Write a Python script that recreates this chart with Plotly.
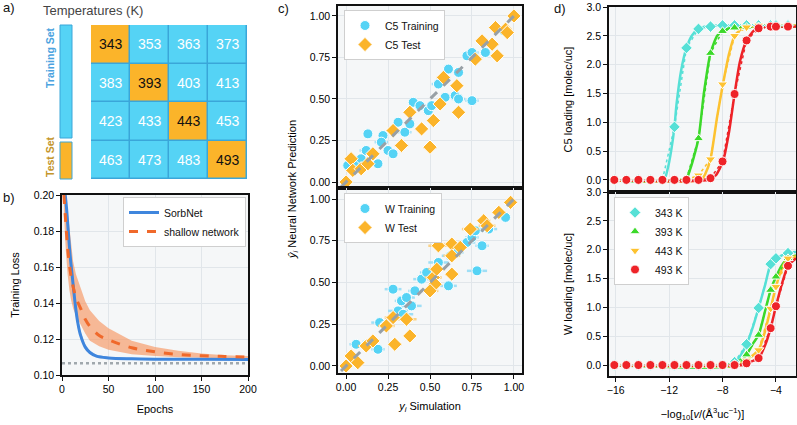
import plotly.graph_objects as go

# ---------------- DATA ----------------
# panel a
temps = [[343, 353, 363, 373],
         [383, 393, 403, 413],
         [423, 433, 443, 453],
         [463, 473, 483, 493]]
test_temps = [343, 393, 443, 493]

# panel b
epochs_sorb = [3.5, 5, 7, 9, 11, 13, 15, 17, 20, 25, 30, 37, 50, 75, 100, 150, 200]
sorb_mean = [0.200, 0.192, 0.178, 0.165, 0.155, 0.145, 0.136, 0.129, 0.122, 0.1155, 0.1125, 0.1105, 0.1095, 0.1090, 0.1088, 0.1087, 0.1086]
sorb_hi = [0.203, 0.196, 0.183, 0.170, 0.160, 0.149, 0.140, 0.132, 0.124, 0.1170, 0.1135, 0.1112, 0.1100, 0.1094, 0.1092, 0.1090, 0.1089]
sorb_lo = [0.197, 0.188, 0.173, 0.160, 0.150, 0.141, 0.132, 0.126, 0.120, 0.1140, 0.1115, 0.1098, 0.1090, 0.1086, 0.1084, 0.1084, 0.1083]
epochs_sh = [2, 4, 6, 8, 10, 12, 15, 20, 25, 30, 40, 50, 75, 100, 125, 150, 175, 200]
sh_mean = [0.200, 0.185, 0.171, 0.161, 0.154, 0.149, 0.143, 0.137, 0.131, 0.127, 0.122, 0.1196, 0.1151, 0.1129, 0.1114, 0.1107, 0.1103, 0.1100]
sh_hi = [0.210, 0.200, 0.190, 0.180, 0.170, 0.163, 0.156, 0.148, 0.141, 0.136, 0.130, 0.126, 0.119, 0.1155, 0.1135, 0.1120, 0.1110, 0.1105]
sh_lo = [0.190, 0.170, 0.156, 0.147, 0.141, 0.137, 0.133, 0.128, 0.123, 0.119, 0.116, 0.114, 0.1115, 0.1105, 0.1098, 0.1095, 0.1093, 0.1090]
loss_floor = 0.1065
epoch_span = [0, 200]

# panel c (C5)
c5_tr_x = [0.01, 0.06, 0.09, 0.13, 0.12, 0.19, 0.22, 0.21, 0.25, 0.28, 0.31, 0.35, 0.38, 0.40, 0.44, 0.49, 0.51, 0.55, 0.59, 0.61, 0.65, 0.67, 0.67, 0.75, 0.72, 0.75, 0.83, 0.94]
c5_tr_y = [0.10, 0.10, 0.14, 0.29, 0.19, 0.11, 0.28, 0.24, 0.19, 0.17, 0.36, 0.30, 0.35, 0.48, 0.46, 0.43, 0.46, 0.59, 0.51, 0.68, 0.52, 0.66, 0.50, 0.49, 0.76, 0.78, 0.78, 0.91]
c5_tr_err = [0.03, 0.02, 0.03, 0.02, 0.04, 0.02, 0.03, 0.04, 0.03, 0.02, 0.03, 0.04, 0.03, 0.02, 0.04, 0.03, 0.02, 0.04, 0.03, 0.02, 0.04, 0.03, 0.04, 0.04, 0.03, 0.04, 0.03, 0.02]
c5_te_x = [0.00, 0.03, 0.04, 0.09, 0.13, 0.16, 0.28, 0.33, 0.38, 0.45, 0.50, 0.52, 0.56, 0.58, 0.66, 0.67, 0.77, 0.81, 0.87, 0.90, 0.89, 0.95, 0.96, 1.00]
c5_te_y = [0.00, 0.14, 0.07, 0.08, 0.11, 0.17, 0.31, 0.22, 0.42, 0.32, 0.21, 0.37, 0.47, 0.63, 0.58, 0.42, 0.74, 0.85, 0.83, 0.76, 0.93, 0.92, 0.90, 1.00]
c5_te_err = [0.02, 0.03, 0.03, 0.02, 0.03, 0.02, 0.03, 0.04, 0.03, 0.02, 0.04, 0.03, 0.02, 0.04, 0.03, 0.03, 0.02, 0.03, 0.04, 0.02, 0.03, 0.02, 0.03, 0.02]

# panel c (W)
w_tr_x = [0.01, 0.06, 0.12, 0.19, 0.20, 0.23, 0.28, 0.31, 0.33, 0.36, 0.39, 0.41, 0.45, 0.48, 0.55, 0.61, 0.66, 0.72, 0.75, 0.77, 0.78, 0.81, 0.85, 0.95, 0.62, 0.34]
w_tr_y = [0.01, 0.13, 0.13, 0.10, 0.26, 0.24, 0.46, 0.33, 0.39, 0.41, 0.36, 0.45, 0.52, 0.56, 0.62, 0.48, 0.68, 0.74, 0.77, 0.81, 0.57, 0.72, 0.82, 0.89, 0.66, 0.31]
w_tr_err = [0.03, 0.04, 0.03, 0.04, 0.05, 0.04, 0.05, 0.06, 0.04, 0.05, 0.06, 0.04, 0.05, 0.04, 0.06, 0.05, 0.04, 0.05, 0.04, 0.05, 0.06, 0.04, 0.05, 0.03, 0.05, 0.06]
w_te_x = [0.00, 0.03, 0.07, 0.12, 0.16, 0.24, 0.29, 0.28, 0.36, 0.38, 0.52, 0.53, 0.50, 0.55, 0.63, 0.63, 0.63, 0.68, 0.74, 0.82, 0.84, 0.91, 0.98, 0.54]
w_te_y = [0.00, 0.06, 0.02, 0.12, 0.15, 0.24, 0.13, 0.29, 0.28, 0.18, 0.53, 0.49, 0.45, 0.72, 0.73, 0.55, 0.66, 0.71, 0.82, 0.87, 0.84, 0.92, 0.98, 0.58]
w_te_err = [0.03, 0.04, 0.03, 0.05, 0.04, 0.05, 0.04, 0.05, 0.06, 0.03, 0.05, 0.04, 0.05, 0.06, 0.05, 0.04, 0.05, 0.04, 0.05, 0.04, 0.05, 0.04, 0.03, 0.05]
parity_line = [-0.03, 1.03]

# panel d
logp = [-16.1, -15.2, -14.3, -13.4, -12.5, -11.6, -10.7, -9.8, -8.9, -8.0, -7.1, -6.2, -5.3, -4.4, -4.0, -3.1]
temps_d = ["343 K", "393 K", "443 K", "493 K"]
c5_load = {
    "343 K": [0, 0, 0, 0, 0, 0.92, 2.29, 2.62, 2.66, 2.68, 2.68, 2.68, 2.68, 2.68, 2.68, 2.68],
    "393 K": [0, 0, 0, 0, 0, 0, 0.02, 0.72, 2.20, 2.58, 2.64, 2.65, 2.66, 2.66, 2.66, 2.66],
    "443 K": [0, 0, 0, 0, 0, 0, 0, 0.08, 0.36, 1.66, 2.50, 2.65, 2.68, 2.68, 2.68, 2.68],
    "493 K": [0, 0, 0, 0, 0, 0, 0, 0, 0.03, 0.32, 1.49, 2.42, 2.63, 2.66, 2.66, 2.66],
}
w_load = {
    "343 K": [0, 0, 0, 0, 0, 0, 0, 0, 0, 0, 0.05, 0.36, 0.99, 1.75, 1.85, 1.94],
    "393 K": [0, 0, 0, 0, 0, 0, 0, 0, 0, 0, 0.02, 0.18, 0.52, 1.30, 1.53, 1.85],
    "443 K": [0, 0, 0, 0, 0, 0, 0, 0, 0, 0, 0.01, 0.08, 0.26, 0.98, 1.36, 1.85],
    "493 K": [0, 0, 0, 0, 0, 0, 0, 0, 0, 0, 0, 0.03, 0.12, 0.64, 1.02, 1.72],
}
c5_fit_x = {
    "343 K": [-16.5, -12.4, -12.1, -11.85, -11.6, -11.45, -11.1, -10.7, -10.3, -9.8, -9.0, -2.5],
    "393 K": [-16.5, -10.8, -10.4, -9.8, -9.4, -8.9, -8.4, -7.9, -7.0, -2.5],
    "443 K": [-16.5, -9.6, -9.3, -8.9, -8.4, -7.97, -7.5, -7.1, -6.5, -5.5, -2.5],
    "493 K": [-16.5, -9.0, -8.5, -7.97, -7.5, -7.1, -6.7, -6.2, -5.6, -4.8, -2.5],
}
c5_fit_y = {
    "343 K": [0, 0, 0.2, 0.5, 0.92, 1.3, 1.9, 2.29, 2.5, 2.62, 2.67, 2.68],
    "393 K": [0, 0, 0.2, 0.72, 1.5, 2.2, 2.5, 2.6, 2.65, 2.66],
    "443 K": [0, 0, 0.1, 0.36, 1.1, 1.66, 2.2, 2.5, 2.63, 2.67, 2.68],
    "493 K": [0, 0, 0.08, 0.32, 0.85, 1.49, 2.05, 2.42, 2.6, 2.65, 2.66],
}
w_fit_x = {
    "343 K": [-16.5, -7.3, -6.7, -6.2, -5.7, -5.3, -4.8, -4.4, -4.0, -3.1, -2.5],
    "393 K": [-16.5, -6.9, -6.2, -5.7, -5.3, -4.8, -4.4, -4.0, -3.5, -3.1, -2.5],
    "443 K": [-16.5, -6.7, -6.2, -5.3, -4.8, -4.4, -4.0, -3.5, -3.1, -2.5],
    "493 K": [-16.5, -6.5, -6.2, -5.3, -4.8, -4.4, -4.0, -3.5, -3.1, -2.5],
}
w_fit_y = {
    "343 K": [0, 0, 0.15, 0.36, 0.68, 0.99, 1.4, 1.75, 1.85, 1.94, 1.96],
    "393 K": [0, 0, 0.18, 0.38, 0.52, 0.95, 1.3, 1.53, 1.75, 1.85, 1.9],
    "443 K": [0, 0, 0.08, 0.26, 0.6, 0.98, 1.36, 1.7, 1.85, 1.88],
    "493 K": [0, 0, 0.03, 0.12, 0.35, 0.64, 1.02, 1.45, 1.72, 1.85],
}

# ---------------- STYLE ----------------
W, H = 797, 425
FONT = "Liberation Sans, Arial, sans-serif"
CYAN = "#55d3f5"
ORANGE = "#fbb42a"
BLUE = "#3f86dd"
DORANGE = "#f0692b"
d_colors = {"343 K": "#56e0d6", "393 K": "#3cd92a", "443 K": "#fdc230", "493 K": "#ee2328"}
d_symbols = {"343 K": "diamond", "393 K": "triangle-up", "443 K": "triangle-down", "493 K": "circle"}


def px(x):
    return x / W


def py(y):
    return 1 - y / H


fig = go.Figure()

# ---- panel a heatmap ----
zvals = [[1 if t in test_temps else 0 for t in row] for row in temps]
fig.add_trace(go.Heatmap(z=zvals, x=[0, 1, 2, 3], y=[0, 1, 2, 3],
                         colorscale=[[0, CYAN], [1, ORANGE]], zmin=0, zmax=1,
                         showscale=False, xgap=1.5, ygap=1.5, hoverinfo="skip",
                         xaxis="x", yaxis="y"))
annotations = []
for i, row in enumerate(temps):
    for j, t in enumerate(row):
        is_test = t in test_temps
        annotations.append(dict(x=j, y=i, xref="x", yref="y", text=str(t), showarrow=False,
                                xanchor="center", yanchor="middle",
                                font=dict(size=14, color="#111" if is_test else "white", family=FONT)))

shapes = [
    dict(type="rect", xref="x", yref="y", x0=-0.5, x1=3.5, y0=-0.5, y1=3.5,
         fillcolor="#3aa6d9", line=dict(color="#3aa6d9", width=1), layer="below"),
    dict(type="rect", xref="paper", yref="paper", x0=px(60), x1=px(72), y0=py(138), y1=py(25),
         fillcolor=CYAN, line=dict(color="#3aa6d9", width=1)),
    dict(type="rect", xref="paper", yref="paper", x0=px(60), x1=px(72), y0=py(179), y1=py(142),
         fillcolor=ORANGE, line=dict(color="#3aa6d9", width=1)),
]

# ---- panel b ----
fig.add_trace(go.Scatter(x=epochs_sh + epochs_sh[::-1], y=sh_hi + sh_lo[::-1], fill="toself",
                         fillcolor="rgba(247,145,90,0.62)", line=dict(width=0), showlegend=False,
                         hoverinfo="skip", xaxis="x2", yaxis="y2"))
fig.add_trace(go.Scatter(x=epochs_sorb + epochs_sorb[::-1], y=sorb_hi + sorb_lo[::-1], fill="toself",
                         fillcolor="rgba(120,170,235,0.6)", line=dict(width=0), showlegend=False,
                         hoverinfo="skip", xaxis="x2", yaxis="y2"))
fig.add_trace(go.Scatter(x=epoch_span, y=[loss_floor, loss_floor], mode="lines",
                         line=dict(color="#a0a8ad", width=2.5, dash="dot"), showlegend=False,
                         xaxis="x2", yaxis="y2"))
fig.add_trace(go.Scatter(x=epochs_sorb, y=sorb_mean, mode="lines", name="SorbNet",
                         line=dict(color=BLUE, width=3, shape="spline"), legend="legend",
                         xaxis="x2", yaxis="y2"))
fig.add_trace(go.Scatter(x=epochs_sh, y=sh_mean, mode="lines", name="shallow network",
                         line=dict(color=DORANGE, width=3, dash="dash", shape="spline"), legend="legend",
                         xaxis="x2", yaxis="y2"))


# ---- panel c ----
def parity(xs, ys, errs, name, color, ecolor, symbol, size, xa, ya, leg):
    fig.add_trace(go.Scatter(x=xs, y=ys, mode="markers", name=name,
                             marker=dict(color=color, symbol=symbol, size=size,
                                         line=dict(color="white", width=1)),
                             error_x=dict(type="data", array=errs, color=ecolor, thickness=2.5, width=0),
                             xaxis=xa, yaxis=ya, legend=leg))


for xa, ya, leg, tr, te, names in [
    ("x3", "y3", "legend2", (c5_tr_x, c5_tr_y, c5_tr_err), (c5_te_x, c5_te_y, c5_te_err), ("C5 Training", "C5 Test")),
    ("x4", "y4", "legend3", (w_tr_x, w_tr_y, w_tr_err), (w_te_x, w_te_y, w_te_err), ("W Training", "W Test")),
]:
    parity(*tr, names[0], CYAN, "rgba(150,220,245,0.9)", "circle", 10, xa, ya, leg)
    parity(*te, names[1], ORANGE, "rgba(252,205,120,0.9)", "diamond", 11, xa, ya, leg)
    fig.add_trace(go.Scatter(x=parity_line, y=parity_line, mode="lines",
                             line=dict(color="#98a0a6", width=3, dash="dash"), showlegend=False,
                             xaxis=xa, yaxis=ya))

# ---- panel d ----
for t in temps_d:
    fig.add_trace(go.Scatter(x=c5_fit_x[t], y=c5_fit_y[t], mode="lines",
                             line=dict(color=d_colors[t], width=2.5, shape="spline", smoothing=0.6),
                             showlegend=False, xaxis="x5", yaxis="y5"))
    fig.add_trace(go.Scatter(x=w_fit_x[t], y=w_fit_y[t], mode="lines",
                             line=dict(color=d_colors[t], width=2.5, shape="spline", smoothing=0.6),
                             showlegend=False, xaxis="x6", yaxis="y6"))
for t in temps_d:
    for xa, ya, vals in [("x5", "y5", c5_load[t]), ("x6", "y6", w_load[t])]:
        fig.add_trace(go.Scatter(x=logp, y=vals, mode="lines",
                                 line=dict(color=d_colors[t], width=1.5, dash="dot"),
                                 showlegend=False, xaxis=xa, yaxis=ya))
for t in temps_d:
    for xa, ya, vals, show in [("x5", "y5", c5_load[t], False), ("x6", "y6", w_load[t], True)]:
        fig.add_trace(go.Scatter(x=logp, y=vals, mode="markers", name=t, showlegend=show,
                                 marker=dict(color=d_colors[t], symbol=d_symbols[t], size=9,
                                             line=dict(color="white", width=1)),
                                 legend="legend4", xaxis=xa, yaxis=ya))

# ---------------- LAYOUT ----------------
tickfont = dict(size=10.5, color="#000", family=FONT)
titlefont = dict(size=11, color="#000", family=FONT)
GRID = "#e1e6ea"


def axis(domain, rng, **kw):
    base = dict(domain=domain, range=rng, showline=True, mirror=True, linecolor="#111", linewidth=1.5,
                ticks="outside", ticklen=4, tickwidth=1.2, tickcolor="#111", tickfont=tickfont,
                showgrid=True, gridcolor=GRID, gridwidth=1, zeroline=False, automargin=False)
    base.update(kw)
    return base


hidden = dict(showline=False, showgrid=False, zeroline=False, showticklabels=False, ticks="",
              automargin=False)

legend_base = dict(bgcolor="white", bordercolor="#cfcfcf", borderwidth=1,
                   font=dict(size=10.5, color="#111", family=FONT), xanchor="left", yanchor="top",
                   tracegroupgap=0, itemwidth=30)

layout = dict(
    template="none",
    width=W, height=H, margin=dict(l=0, r=0, t=0, b=0, pad=0, autoexpand=False),
    paper_bgcolor="white", plot_bgcolor="#f5f7f8",
    font=dict(family=FONT, color="#111"),
    xaxis=dict(domain=[px(91), px(247)], range=[-0.5, 3.5], **hidden),
    yaxis=dict(domain=[py(179), py(25)], range=[3.5, -0.5], **hidden),
    xaxis2=axis([px(62), px(248)], [0, 200], tickvals=[0, 50, 100, 150, 200],
                title=dict(text="Epochs", font=titlefont, standoff=11), anchor="y2"),
    yaxis2=axis([py(375), py(195)], [0.10, 0.20], tickvals=[0.10, 0.12, 0.14, 0.16, 0.18, 0.20],
                tickformat=".2f", title=dict(text="Training Loss", font=titlefont, standoff=12), anchor="x2"),
    xaxis3=axis([px(338), px(522)], [-0.048, 1.048], tickvals=[0, 0.25, 0.5, 0.75, 1.0],
                showticklabels=False, ticks="", anchor="y3"),
    yaxis3=axis([py(188), py(6)], [-0.036, 1.06], tickvals=[0, 0.25, 0.5, 0.75, 1.0],
                tickformat=".2f", anchor="x3"),
    xaxis4=axis([px(338), px(522)], [-0.048, 1.048], tickvals=[0, 0.25, 0.5, 0.75, 1.0],
                tickformat=".2f", title=dict(text="<i>y<sub>i</sub></i> Simulation", font=titlefont, standoff=10),
                anchor="y4"),
    yaxis4=axis([py(373), py(188)], [-0.042, 1.066], tickvals=[0, 0.25, 0.5, 0.75, 1.0],
                tickformat=".2f", anchor="x4"),
    xaxis5=axis([px(609), px(796)], [-16.5, -2.5], tickvals=[-16, -12, -8, -4],
                showticklabels=False, ticks="", anchor="y5"),
    yaxis5=axis([py(192), py(7)], [-0.21, 3.0], tickvals=[0, 0.5, 1, 1.5, 2, 2.5, 3],
                tickformat=".1f", title=dict(text="C5 loading [molec/uc]", font=titlefont, standoff=12),
                anchor="x5"),
    xaxis6=axis([px(609), px(796)], [-16.5, -2.5], tickvals=[-16, -12, -8, -4],
                ticktext=["\u221216", "\u221212", "\u22128", "\u22124"],
                title=dict(text="\u2212log<sub>10</sub>[<i>v</i>/(\u00c5<sup>3</sup>uc<sup>\u22121</sup>)]",
                           font=titlefont, standoff=15), anchor="y6"),
    yaxis6=axis([py(376), py(192)], [-0.19, 3.0], tickvals=[0, 0.5, 1, 1.5, 2, 2.5, 3],
                tickformat=".1f", title=dict(text="W loading [molec/uc]", font=titlefont, standoff=12),
                anchor="x6"),
    legend=dict(x=px(123), y=py(197), **legend_base),
    legend2=dict(x=px(344), y=py(10), **legend_base),
    legend3=dict(x=px(344), y=py(193), **legend_base),
    legend4=dict(x=px(614), y=py(197), **legend_base),
    shapes=shapes,
)


def label(x, y, text, size=13, color="#111", angle=0, xanchor="center"):
    return dict(x=px(x), y=py(y), xref="paper", yref="paper", text=text, showarrow=False,
                xanchor=xanchor, yanchor="middle", textangle=angle,
                font=dict(size=size, color=color, family=FONT))


annotations += [
    label(93, 10, "Temperatures (K)", 13, "#444"),
    label(50, 58, "<b>Training Set</b>", 10.5, "#4aa3e0", -90),
    label(50, 157, "<b>Test Set</b>", 10.5, "#c4962c", -90),
    label(1, 8, "a)", xanchor="left"),
    label(1, 197, "b)", xanchor="left"),
    label(276, 9, "c)", xanchor="left"),
    label(552, 9, "d)", xanchor="left"),
    label(293, 190, "<i>\u0177<sub>i</sub></i> Neural Network Prediction", 11, "#000", -90),
]
layout["annotations"] = annotations

fig.update_layout(**layout)
fig.write_html("out.html", config={"displayModeBar": False},
               post_script="document.body.style.margin='0px';")
